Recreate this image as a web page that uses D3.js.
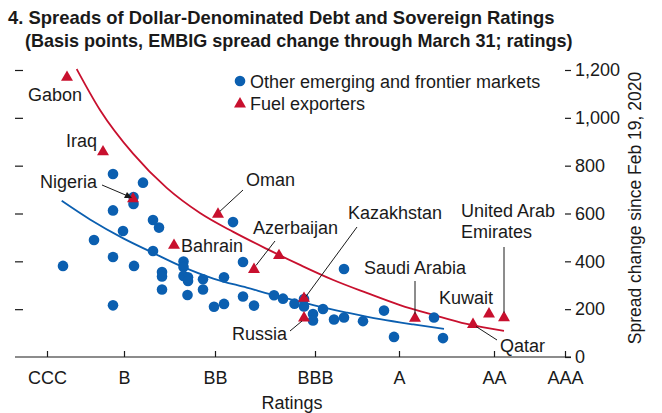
<!DOCTYPE html>
<html><head><meta charset="utf-8">
<script src="https://cdn.jsdelivr.net/npm/d3@7"></script>
<style>
body{margin:0;background:#fff}
svg{display:block}
text{font-family:'Liberation Sans',Arial,Helvetica,sans-serif;fill:#1a1a1a}
</style>
</head><body>
<svg id="c" width="662" height="413"></svg>
<script>
// ---- data ----
const ratingLabels = ["CCC", "B", "BB", "BBB", "A", "AA", "AAA"];
const ratingTicks  = [3.2, 10.9, 20.0, 30.0, 38.4, 47.9, 55.0];
const spreadTicks  = [0, 200, 400, 600, 800, 1000, 1200];

const otherRating = [4.8, 7.9, 9.8, 12.8, 11.85, 11.85, 9.8, 13.8, 14.4, 10.8, 13.8, 9.8, 11.9, 14.7, 14.7, 14.7,
  9.8, 16.85, 16.85, 16.85, 17.3, 17.3, 17.25, 18.8, 18.8, 19.9, 20.9, 20.9, 21.8, 22.8, 22.8, 23.9, 25.9, 26.8,
  27.95, 28.9, 29.8, 29.8, 30.8, 31.9, 32.9, 32.9, 34.8, 36.9, 37.9, 41.9, 42.8, 28.9];
const otherSpread = [381, 489, 765, 729, 669, 640, 613, 573, 541, 527, 443, 418, 381, 355, 337, 282,
  216, 399, 376, 339, 333, 318, 259, 325, 282, 210, 333, 222, 564, 397, 253, 215, 258, 244,
  223, 211, 180, 153, 201, 157, 165, 368, 150, 194, 84, 165, 79, 242];

const fuelNames  = ["Gabon", "Iraq", "Nigeria", "Bahrain", "Oman", "Azerbaijan", "", "Kazakhstan", "Russia",
  "Saudi Arabia", "Qatar", "Kuwait", "United Arab Emirates"];
const fuelRating = [5.2, 8.8, 11.8, 15.9, 20.3, 23.9, 26.4, 28.9, 28.9, 40.0, 45.8, 47.4, 48.9];
const fuelSpread = [1169, 858, 661, 467, 597, 366, 424, 245, 163, 162, 136, 180, 164];

const otherFitRating = [4.67, 7.5, 10.83, 13.83, 16.5, 19.83, 23.17, 26.5, 29.83, 33.17, 36.5, 39.83, 42.9];
const otherFitSpread = [653, 575, 496, 435, 382, 328, 290, 252, 217, 186, 158, 136, 118];

const fuelFitRating = [6.17, 8.5, 11.83, 15.17, 18.5, 21.83, 25.17, 28.5, 31.83, 35.17, 38.5, 41.83, 45.17, 48.9];
const fuelFitSpread = [1204, 1033, 849, 707, 602, 523, 452, 385, 322, 268, 217, 176, 138, 109];

// ---- chart ----
const BLUE = "#0b5fb0", RED = "#c8102e", FS = 18;
const svg = d3.select("#c");
const x = d3.scaleLinear().domain([0, 55]).range([15, 565]);
const y = d3.scaleLinear().domain([0, 1200]).range([357, 70]);

function fit(sel, target) {
  const w = sel.node().getComputedTextLength();
  const fs = +sel.attr("font-size");
  sel.attr("font-size", (fs * target / w).toFixed(2));
}

// title
fit(svg.append("text").attr("x", 8).attr("y", 24).attr("font-size", 19).attr("font-weight", "bold")
  .text("4. Spreads of Dollar-Denominated Debt and Sovereign Ratings"), 547);
fit(svg.append("text").attr("x", 25).attr("y", 47).attr("font-size", 19).attr("font-weight", "bold")
  .text("(Basis points, EMBIG spread change through March 31; ratings)"), 548);

// axes
const gx = svg.append("g").attr("transform", "translate(0,357)")
  .call(d3.axisBottom(x).tickValues(ratingTicks).tickFormat((d, i) => ratingLabels[i])
    .tickSizeInner(-6).tickSizeOuter(0).tickPadding(14));
gx.select(".domain").remove();
svg.append("line").attr("x1", 15).attr("x2", 571).attr("y1", 357).attr("y2", 357)
  .attr("stroke", "#1a1a1a").attr("stroke-width", 1.2);

const gr = svg.append("g").attr("transform", "translate(565,0)")
  .call(d3.axisRight(y).tickValues(spreadTicks).tickFormat(d3.format(",")).tickSize(6).tickPadding(4));
gr.select(".domain").remove();

const gl = svg.append("g").attr("transform", "translate(15,0)")
  .call(d3.axisLeft(y).tickValues(spreadTicks.slice(1)).tickFormat("").tickSize(-8));
gl.select(".domain").remove();

[gx, gr, gl].forEach(g => {
  g.selectAll("line").attr("stroke", "#1a1a1a").attr("stroke-width", 1.2);
  g.selectAll("text").attr("font-size", FS).attr("fill", "#1a1a1a");
});

svg.append("text").attr("x", 292).attr("y", 409).attr("text-anchor", "middle").attr("font-size", FS)
  .text("Ratings");
svg.append("text").attr("transform", "translate(641,208) rotate(-90)").attr("text-anchor", "middle")
  .attr("font-size", 17.5).text("Spread change since Feb 19, 2020");

// fit lines
const line = d3.line().x(d => x(d[0])).y(d => y(d[1])).curve(d3.curveMonotoneX);
svg.append("path").attr("d", line(d3.zip(otherFitRating, otherFitSpread)))
  .attr("fill", "none").attr("stroke", BLUE).attr("stroke-width", 1.8);
svg.append("path").attr("d", line(d3.zip(fuelFitRating, fuelFitSpread)))
  .attr("fill", "none").attr("stroke", RED).attr("stroke-width", 1.8);

// points
svg.append("g").selectAll("circle").data(d3.zip(otherRating, otherSpread)).join("circle")
  .attr("cx", d => x(d[0])).attr("cy", d => y(d[1])).attr("r", 5.3).attr("fill", BLUE);
const tri = d3.symbol().type(d3.symbolTriangle).size(62);
svg.append("g").selectAll("path").data(d3.zip(fuelRating, fuelSpread)).join("path")
  .attr("transform", d => `translate(${x(d[0])},${y(d[1])})`).attr("d", tri).attr("fill", RED);

// legend
svg.append("circle").attr("cx", 240).attr("cy", 81).attr("r", 5.3).attr("fill", BLUE);
svg.append("text").attr("x", 250).attr("y", 88).attr("font-size", FS).text("Other emerging and frontier markets");
svg.append("path").attr("transform", "translate(240,104)").attr("d", tri).attr("fill", RED);
svg.append("text").attr("x", 250).attr("y", 110).attr("font-size", FS).text("Fuel exporters");

// annotations
function pt(name) { const i = fuelNames.indexOf(name); return [x(fuelRating[i]), y(fuelSpread[i])]; }
const ann = svg.append("g");
function label(txt, lx, ly, anchor) {
  ann.append("text").attr("x", lx).attr("y", ly).attr("text-anchor", anchor || "start").attr("font-size", FS).text(txt);
}
function leader(x1, y1, x2, y2) {
  ann.append("line").attr("x1", x1).attr("y1", y1).attr("x2", x2).attr("y2", y2)
    .attr("stroke", "#1a1a1a").attr("stroke-width", 1);
}
label("Gabon", 28, 101);
label("Iraq", 97, 147, "end");
label("Nigeria", 97, 188, "end");
{ const p = pt("Nigeria"); leader(102, 185, p[0] - 3, p[1] - 2);
  ann.append("path").attr("d", d3.line()([[p[0]-1, p[1]-1],[p[0]-9, p[1]-1],[p[0]-6, p[1]-7]]))
    .attr("fill", "#1a1a1a"); }
label("Bahrain", 181, 252);
label("Oman", 246, 186);
{ const p = pt("Oman"); leader(243, 190, p[0] + 2, p[1] - 3); }
label("Azerbaijan", 253, 234);
{ const p = pt("Azerbaijan"); leader(275, 241, p[0] + 2, p[1] - 4); }
label("Kazakhstan", 348, 219);
{ const p = pt("Kazakhstan"); leader(357, 227, p[0] + 2, p[1] - 2); }
label("Russia", 232, 340);
{ const p = pt("Russia"); leader(290, 331, p[0] - 2, p[1] + 3); }
label("Saudi Arabia", 364, 274);
{ const p = pt("Saudi Arabia"); leader(p[0], 281, p[0], p[1] - 4); }
label("Kuwait", 439, 304);
label("United Arab", 461, 217);
label("Emirates", 461, 238);
{ const p = pt("United Arab Emirates"); leader(p[0], 247, p[0], p[1] - 5); }
label("Qatar", 500, 352);
{ const p = pt("Qatar"); leader(p[0] + 3, p[1] + 2, 497, 340); }
</script>
</body></html>
